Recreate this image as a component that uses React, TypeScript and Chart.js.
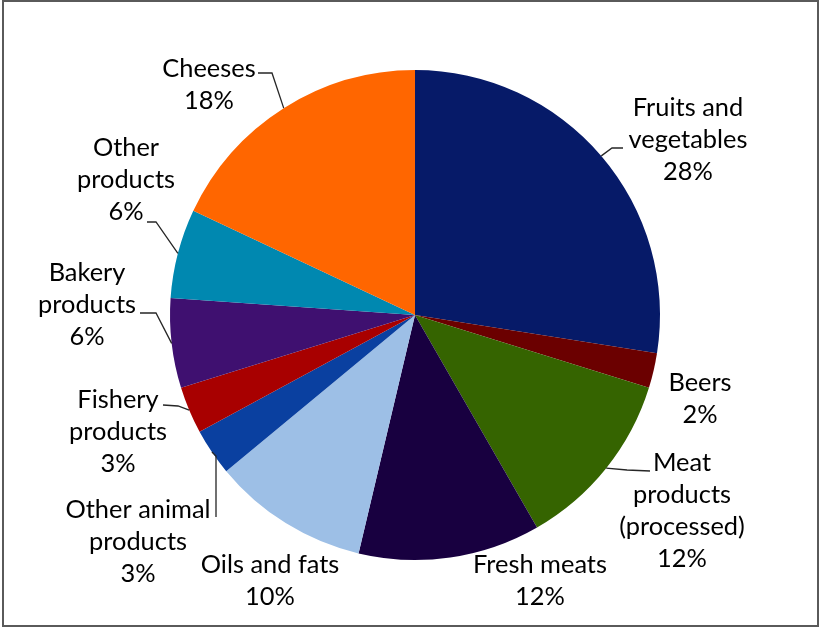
import React, { useEffect, useRef } from "react";
import { Chart, registerables } from "chart.js";

Chart.register(...registerables);

const categories: string[][] = [
  ["Fruits and", "vegetables"],
  ["Beers"],
  ["Meat", "products", "(processed)"],
  ["Fresh meats"],
  ["Oils and fats"],
  ["Other animal", "products"],
  ["Fishery", "products"],
  ["Bakery", "products"],
  ["Other", "products"],
  ["Cheeses"],
];

const shares: number[] = [27.5, 2.3, 11.9, 12.0, 10.3, 3.1, 3.1, 5.9, 5.9, 18.0];

const sliceColors: string[] = [
  "#061A68",
  "#6B0000",
  "#356400",
  "#180040",
  "#9DBFE6",
  "#0A40A0",
  "#A80000",
  "#3F1070",
  "#0088B0",
  "#FF6600",
];

// label layout: text block centre offset from pie centre (px at radius 245)
const labelOffsets: [number, number][] = [
  [273, -175],
  [285, 84],
  [267, 196],
  [125, 266],
  [-145, 266],
  [-277, 227],
  [-297, 117],
  [-328, -10],
  [-289, -135],
  [-206, -230],
];

// leader lines: [startDx, startDy, elbowDx, elbowDy] or null
const leaderOffsets: (number[] | null)[] = [
  [208, -167, 197, -167],
  null,
  [235, 156, 212, 155],
  null,
  null,
  [-199, 202, -199, 141],
  [-252, 90, -237, 91],
  [-275, -2, -259, -2],
  [-268, -93, -259, -93],
  [-157, -242, -143, -242],
];

const FONT_FAMILY = "Lato, 'Open Sans', sans-serif";
const LINE_HEIGHT = 32;

const labelPlugin = {
  id: "pieLabels",
  afterDraw(chart: any) {
    const ctx = chart.ctx as CanvasRenderingContext2D;
    const meta = chart.getDatasetMeta(0);
    const total = shares.reduce((a, b) => a + b, 0);
    ctx.save();
    ctx.font = `100px ${FONT_FAMILY}`;
    const w100 = ctx.measureText("products").width;
    meta.data.forEach((arc: any, i: number) => {
      const { x, y, outerRadius, startAngle, endAngle } = arc.getProps(
        ["x", "y", "outerRadius", "startAngle", "endAngle"],
        true
      );
      const s = outerRadius / 245;
      const fontSize = (98 * s * 100) / w100;
      const mid = (startAngle + endAngle) / 2;
      const ax = x + Math.cos(mid) * outerRadius;
      const ay = y + Math.sin(mid) * outerRadius;
      const lead = leaderOffsets[i];
      if (lead) {
        ctx.beginPath();
        ctx.strokeStyle = "#262626";
        ctx.lineWidth = 1.3;
        ctx.moveTo(x + lead[0] * s, y + lead[1] * s);
        ctx.lineTo(x + lead[2] * s, y + lead[3] * s);
        ctx.lineTo(ax, ay);
        ctx.stroke();
      }
      const lines = [
        ...categories[i],
        `${Math.round((shares[i] / total) * 100)}%`,
      ];
      const cx = x + labelOffsets[i][0] * s;
      const cy = y + labelOffsets[i][1] * s;
      const lh = LINE_HEIGHT * s;
      const top = cy - ((lines.length - 1) * lh) / 2;
      ctx.fillStyle = "#000000";
      ctx.font = `${fontSize}px ${FONT_FAMILY}`;
      ctx.textAlign = "center";
      ctx.textBaseline = "middle";
      lines.forEach((ln, k) => ctx.fillText(ln, cx, top + k * lh));
    });
    ctx.restore();
  },
};

export default function App() {
  const canvasRef = useRef<HTMLCanvasElement | null>(null);

  useEffect(() => {
    if (!canvasRef.current) return;
    const chart = new Chart(canvasRef.current, {
      type: "pie",
      data: {
        labels: categories.map((c) => c.join(" ")),
        datasets: [
          {
            data: shares,
            backgroundColor: sliceColors,
            borderWidth: 0,
          },
        ],
      },
      options: {
        responsive: false,
        animation: false,
        layout: { padding: { left: 170, right: 161, top: 70, bottom: 69 } },
        plugins: {
          legend: { display: false },
          tooltip: { enabled: false },
        },
      },
      plugins: [labelPlugin],
    });
    return () => chart.destroy();
  }, []);

  return (
    <div
      style={{
        position: "absolute",
        left: 0,
        top: 0,
        width: 821,
        height: 629,
        background: "#ffffff",
      }}
    >
      <div
        style={{
          position: "absolute",
          left: 2,
          top: 0,
          width: 817,
          height: 627,
          border: "2px solid #5a5a5a",
          boxSizing: "border-box",
        }}
      />
      <canvas
        ref={canvasRef}
        width={821}
        height={629}
        style={{ position: "absolute", left: 0, top: 0 }}
      />
    </div>
  );
}
